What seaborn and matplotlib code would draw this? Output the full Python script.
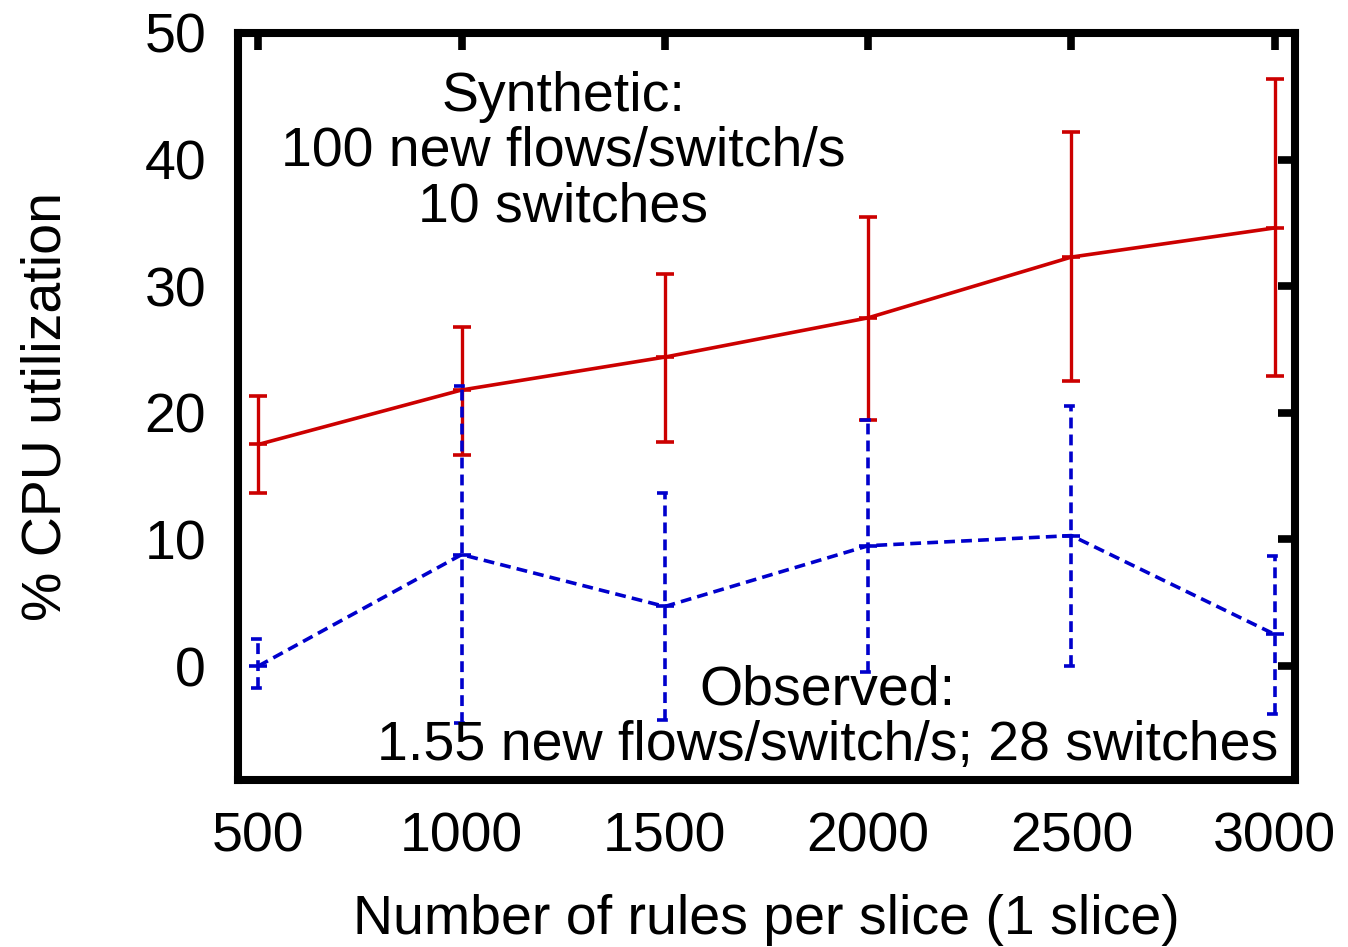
import numpy as np
import pandas as pd
import matplotlib
matplotlib.use("Agg")
import matplotlib.pyplot as plt
import seaborn as sns

rules = [500, 1000, 1500, 2000, 2500, 3000]

synthetic_mean = [17.5, 21.8, 24.4, 27.5, 32.3, 34.6]
synthetic_low = [13.7, 16.7, 17.7, 19.4, 22.5, 22.9]
synthetic_high = [21.3, 26.8, 31.0, 35.5, 42.2, 46.4]

observed_mean = [0.0, 8.8, 4.7, 9.5, 10.3, 2.5]
observed_low = [-1.7, -4.5, -4.3, -0.5, 0.0, -3.8]
observed_high = [2.1, 22.1, 13.7, 19.4, 20.5, 8.7]

x_ticks = [500, 1000, 1500, 2000, 2500, 3000]
y_ticks = [0, 10, 20, 30, 40, 50]

sns.set_theme(style="white")
plt.rcParams["font.family"] = ["Liberation Sans", "DejaVu Sans"]
plt.rcParams["text.color"] = "black"
plt.rcParams["axes.labelcolor"] = "black"
plt.rcParams["xtick.color"] = "black"
plt.rcParams["ytick.color"] = "black"

RED = "#cc0000"
BLUE = "#0000cc"
FS = 40
DASH = (3.0, 1.7)

fig = plt.figure(figsize=(13.48, 9.47), dpi=100)
ax = fig.add_axes([0.1766, 0.1764, 0.7841, 0.7888])

df = pd.DataFrame({
    "rules": rules * 2,
    "cpu": synthetic_mean + observed_mean,
    "series": ["Synthetic"] * 6 + ["Observed"] * 6,
})

sns.lineplot(data=df, x="rules", y="cpu", hue="series", style="series",
             palette={"Synthetic": RED, "Observed": BLUE},
             dashes={"Synthetic": "", "Observed": DASH},
             markers={"Synthetic": "_", "Observed": "_"},
             markersize=13, linewidth=2.6,
             legend=False, ax=ax)
for ln in ax.lines:
    ln.set_markeredgecolor(ln.get_color())
    ln.set_markeredgewidth(2.6)

# Synthetic error bars: solid with caps
s_mean = np.array(synthetic_mean)
ax.errorbar(rules, s_mean,
            yerr=[s_mean - np.array(synthetic_low), np.array(synthetic_high) - s_mean],
            fmt="none", ecolor=RED, elinewidth=2.4, capsize=6.5, capthick=2.6)

# Observed error bars: dashed whiskers and dashed caps
ax.vlines(rules, observed_low, observed_high, colors=BLUE, linewidth=2.6,
          linestyles=(0, DASH))
half = 19
for xv, lo, hi in zip(rules, observed_low, observed_high):
    ax.hlines([lo, hi], xv - half, xv + half, colors=BLUE, linewidth=2.6,
              linestyles=(0, DASH))

ax.set_xlim(450, 3050)
ax.set_ylim(-9, 50)
ax.set_xticks(x_ticks)
ax.set_yticks(y_ticks)
ax.tick_params(axis="both", direction="in", length=12, width=5.5,
               top=True, right=True, labelsize=FS, pad=23, color="black")
for sp in ax.spines.values():
    sp.set_linewidth(5.8)
    sp.set_color("black")

ax.set_xlabel("Number of rules per slice (1 slice)", fontsize=FS, labelpad=22)
ax.set_ylabel("% CPU utilization", fontsize=FS, labelpad=52)

ax.text(1250, 40.6, "Synthetic:\n100 new flows/switch/s\n10 switches",
        ha="center", va="center", multialignment="center",
        fontsize=FS, linespacing=1.08)
ax.text(1900, -4.1, "Observed:\n1.55 new flows/switch/s; 28 switches",
        ha="center", va="center", multialignment="center",
        fontsize=FS, linespacing=1.08)

fig.savefig("out.png", dpi=100, facecolor="white")
